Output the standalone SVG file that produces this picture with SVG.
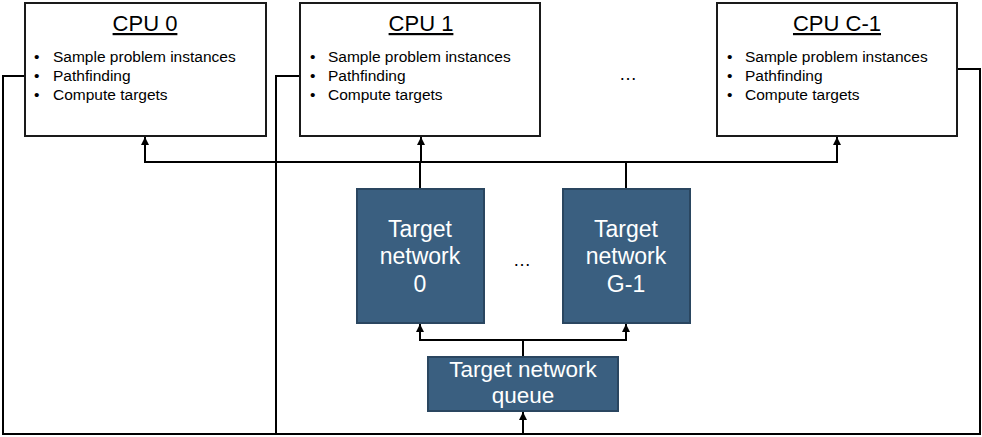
<svg xmlns="http://www.w3.org/2000/svg" width="982" height="437" viewBox="0 0 982 437">
<defs>
<marker id="ah" markerWidth="8" markerHeight="8" refX="8" refY="4" orient="auto-start-reverse" markerUnits="userSpaceOnUse" viewBox="0 0 8 8">
<path d="M0,0 L8,4 L0,8 Z" fill="#000"/>
</marker>
<style>
.cpu{fill:#fff;stroke:#1a1a1a;stroke-width:2}
.tn{fill:#3A5F80;stroke:#2A4660;stroke-width:2}
.title{font-family:"Liberation Sans",Arial,sans-serif;font-size:22px;fill:#000;text-anchor:middle;text-decoration:underline}
.bul{font-family:"Liberation Sans",Arial,sans-serif;font-size:15.5px;fill:#000}
.wt{font-family:"Liberation Sans",Arial,sans-serif;font-size:23px;fill:#fff;text-anchor:middle}
.wq{font-family:"Liberation Sans",Arial,sans-serif;font-size:22.5px;fill:#fff;text-anchor:middle}
.dots{font-family:"Liberation Sans",Arial,sans-serif;font-size:18px;fill:#000;text-anchor:middle}
.ln{fill:none;stroke:#000;stroke-width:2}
</style>
</defs>
<rect width="982" height="437" fill="#fff"/>
<g id="connectors">
<polyline class="ln" points="25,76 3,76 3,434 523,434"/>
<polyline class="ln" points="300,76 276,76 276,434"/>
<polyline class="ln" points="957,69 980,69 980,434 523,434"/>
<line class="ln" x1="523" y1="434" x2="523" y2="412" marker-end="url(#ah)"/>
<polyline class="ln" points="145,137 145,162 837,162 837,137" marker-start="url(#ah)" marker-end="url(#ah)"/>
<line class="ln" x1="421" y1="162" x2="421" y2="137" marker-end="url(#ah)"/>
<line class="ln" x1="420" y1="162" x2="420" y2="189"/>
<line class="ln" x1="626" y1="162" x2="626" y2="189"/>
<line class="ln" x1="523" y1="357" x2="523" y2="340"/>
<polyline class="ln" points="420,324 420,340 626,340 626,324" marker-start="url(#ah)" marker-end="url(#ah)"/>
</g>
<g id="cpu0">
<rect class="cpu" x="25" y="3" width="241" height="133"/>
<text class="title" x="145" y="31">CPU 0</text>
<text class="bul" x="34" y="62">•</text><text class="bul" x="53" y="62">Sample problem instances</text>
<text class="bul" x="34" y="81">•</text><text class="bul" x="53" y="81">Pathfinding</text>
<text class="bul" x="34" y="100">•</text><text class="bul" x="53" y="100">Compute targets</text>
</g>
<g id="cpu1">
<rect class="cpu" x="300" y="3" width="240" height="133"/>
<text class="title" x="421" y="31">CPU 1</text>
<text class="bul" x="310" y="62">•</text><text class="bul" x="328" y="62">Sample problem instances</text>
<text class="bul" x="310" y="81">•</text><text class="bul" x="328" y="81">Pathfinding</text>
<text class="bul" x="310" y="100">•</text><text class="bul" x="328" y="100">Compute targets</text>
</g>
<text class="dots" x="628" y="80">…</text>
<g id="cpuC1">
<rect class="cpu" x="717" y="3" width="240" height="133"/>
<text class="title" x="837" y="31">CPU C-1</text>
<text class="bul" x="727" y="62">•</text><text class="bul" x="745" y="62">Sample problem instances</text>
<text class="bul" x="727" y="81">•</text><text class="bul" x="745" y="81">Pathfinding</text>
<text class="bul" x="727" y="100">•</text><text class="bul" x="745" y="100">Compute targets</text>
</g>
<g id="tn0">
<rect class="tn" x="357" y="189" width="127" height="134"/>
<text class="wt" x="420" y="237">Target</text>
<text class="wt" x="420" y="264">network</text>
<text class="wt" x="420" y="292">0</text>
</g>
<text class="dots" x="522" y="266">…</text>
<g id="tnG1">
<rect class="tn" x="563" y="189" width="127" height="134"/>
<text class="wt" x="626" y="237">Target</text>
<text class="wt" x="626" y="264">network</text>
<text class="wt" x="626" y="292">G-1</text>
</g>
<g id="queue">
<rect class="tn" x="428" y="357" width="190" height="54"/>
<text class="wq" x="523" y="377">Target network</text>
<text class="wq" x="523" y="403">queue</text>
</g>
</svg>
